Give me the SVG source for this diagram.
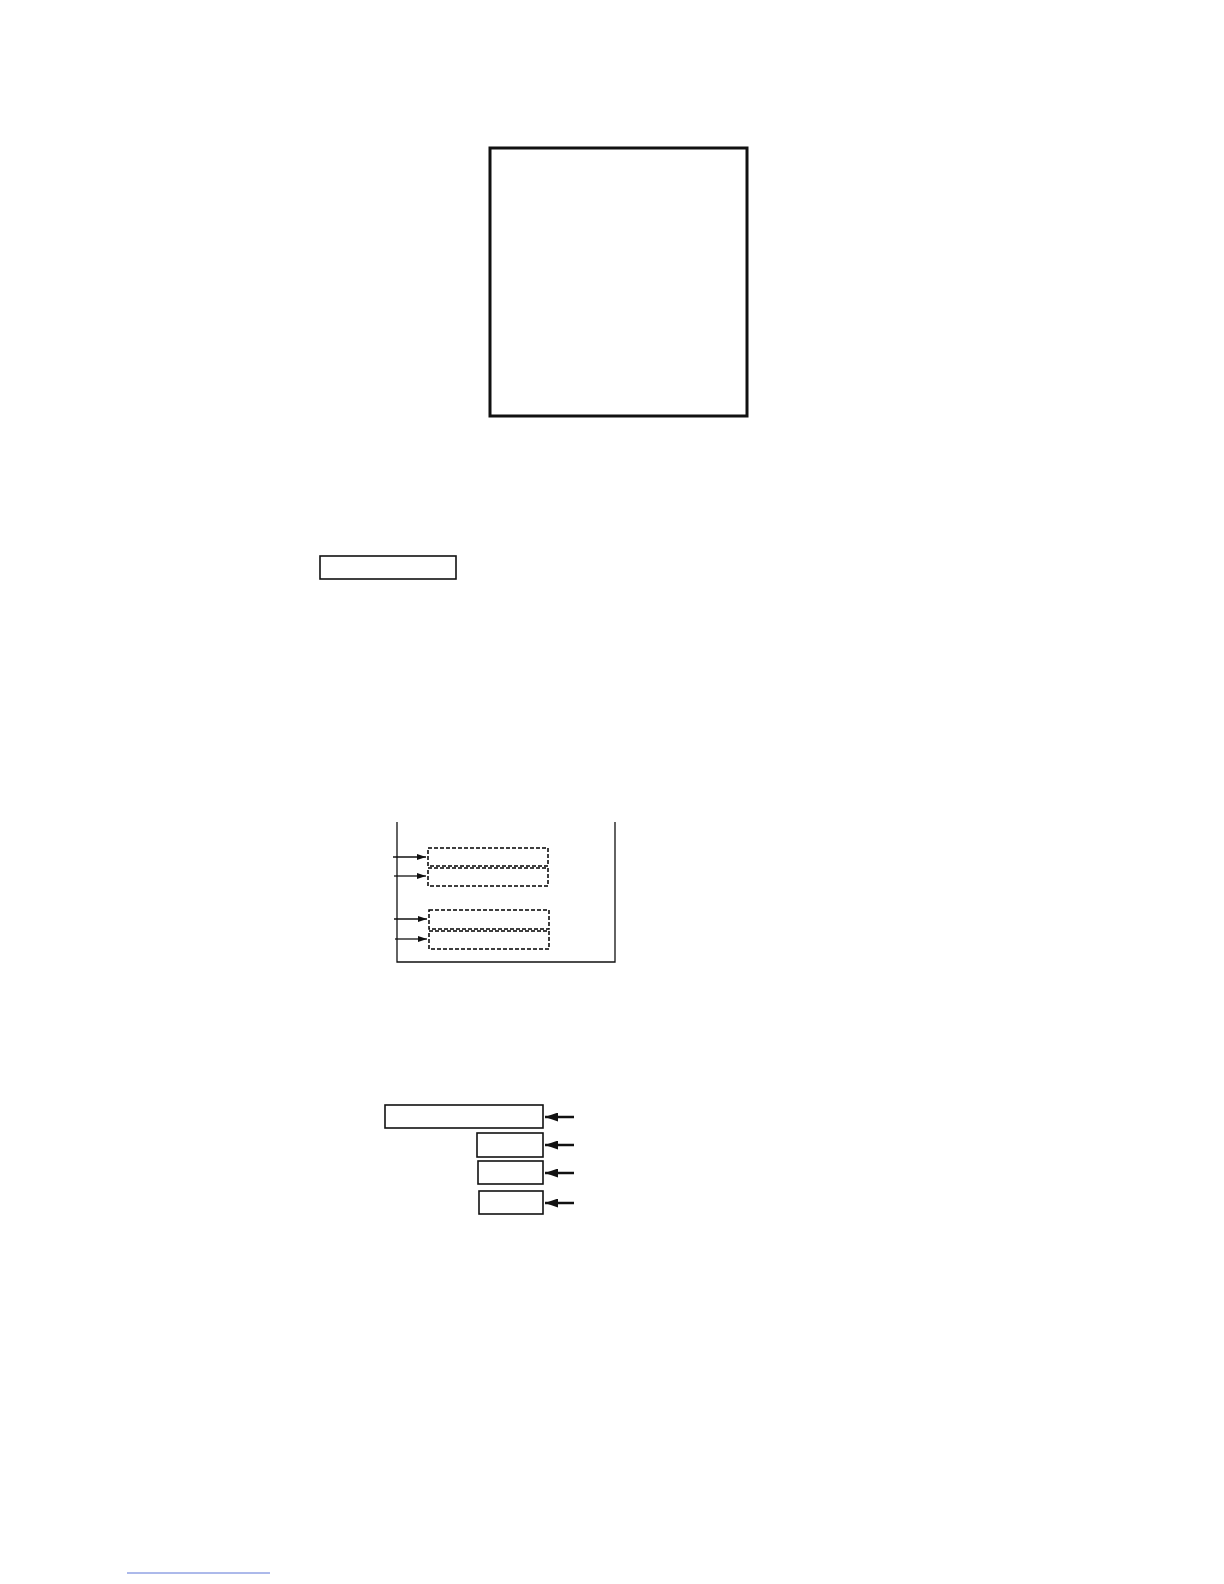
<svg xmlns="http://www.w3.org/2000/svg" width="1224" height="1584" viewBox="0 0 1224 1584">
<defs>
<style>
.box{fill:none;stroke:#111;}
.dash{fill:none;stroke:#000;stroke-width:1.5;stroke-dasharray:4,2;}
.thin{stroke:#111;stroke-width:1.3;fill:none;}
.arr{stroke:#111;stroke-width:1.3;fill:none;}
.arrb{stroke:#111;stroke-width:2.5;fill:none;}
</style>
<marker id="ah" markerWidth="9" markerHeight="6" refX="9" refY="3" orient="auto" markerUnits="userSpaceOnUse">
<path d="M0,0 L9,3 L0,6 Z" fill="#111"/>
</marker>
<marker id="ahb" markerWidth="13" markerHeight="9" refX="13" refY="4.5" orient="auto" markerUnits="userSpaceOnUse">
<path d="M0,0 L13,4.5 L0,9 Z" fill="#111"/>
</marker>
</defs>
<rect width="1224" height="1584" fill="#fff"/>
<g id="big-box"><rect class="box" x="490" y="148" width="257" height="268" stroke-width="3"/></g>
<g id="small-box"><rect class="box" x="320" y="556" width="136" height="23" stroke-width="1.6"/></g>
<g id="frame"><path class="thin" d="M397,822 V962 H615 V822"/></g>
<g id="slot1"><rect class="dash" x="428" y="848" width="120" height="18"/></g>
<g id="slot2"><rect class="dash" x="428" y="868" width="120" height="18"/></g>
<g id="slot3"><rect class="dash" x="429" y="910" width="120" height="19"/></g>
<g id="slot4"><rect class="dash" x="429" y="931" width="120" height="18"/></g>
<g id="boxA"><rect class="box" x="385" y="1105" width="158" height="23" stroke-width="1.6"/></g>
<g id="boxB"><rect class="box" x="477" y="1133" width="66" height="24" stroke-width="1.6"/></g>
<g id="boxC"><rect class="box" x="478" y="1161" width="65" height="23" stroke-width="1.6"/></g>
<g id="boxD"><rect class="box" x="479" y="1191" width="64" height="23" stroke-width="1.6"/></g>
<g id="connectors">
<line class="arr" x1="393" y1="857" x2="426" y2="857" marker-end="url(#ah)"/>
<line class="arr" x1="394" y1="876" x2="426" y2="876" marker-end="url(#ah)"/>
<line class="arr" x1="394" y1="919" x2="427" y2="919" marker-end="url(#ah)"/>
<line class="arr" x1="395" y1="939" x2="427" y2="939" marker-end="url(#ah)"/>
<line class="arrb" x1="574" y1="1117" x2="545" y2="1117" marker-end="url(#ahb)"/>
<line class="arrb" x1="574" y1="1145" x2="545" y2="1145" marker-end="url(#ahb)"/>
<line class="arrb" x1="574" y1="1173" x2="545" y2="1173" marker-end="url(#ahb)"/>
<line class="arrb" x1="574" y1="1203" x2="545" y2="1203" marker-end="url(#ahb)"/>
</g>
<line x1="127" y1="1573" x2="270" y2="1573" stroke="#5a74d6" stroke-width="1"/>
</svg>
